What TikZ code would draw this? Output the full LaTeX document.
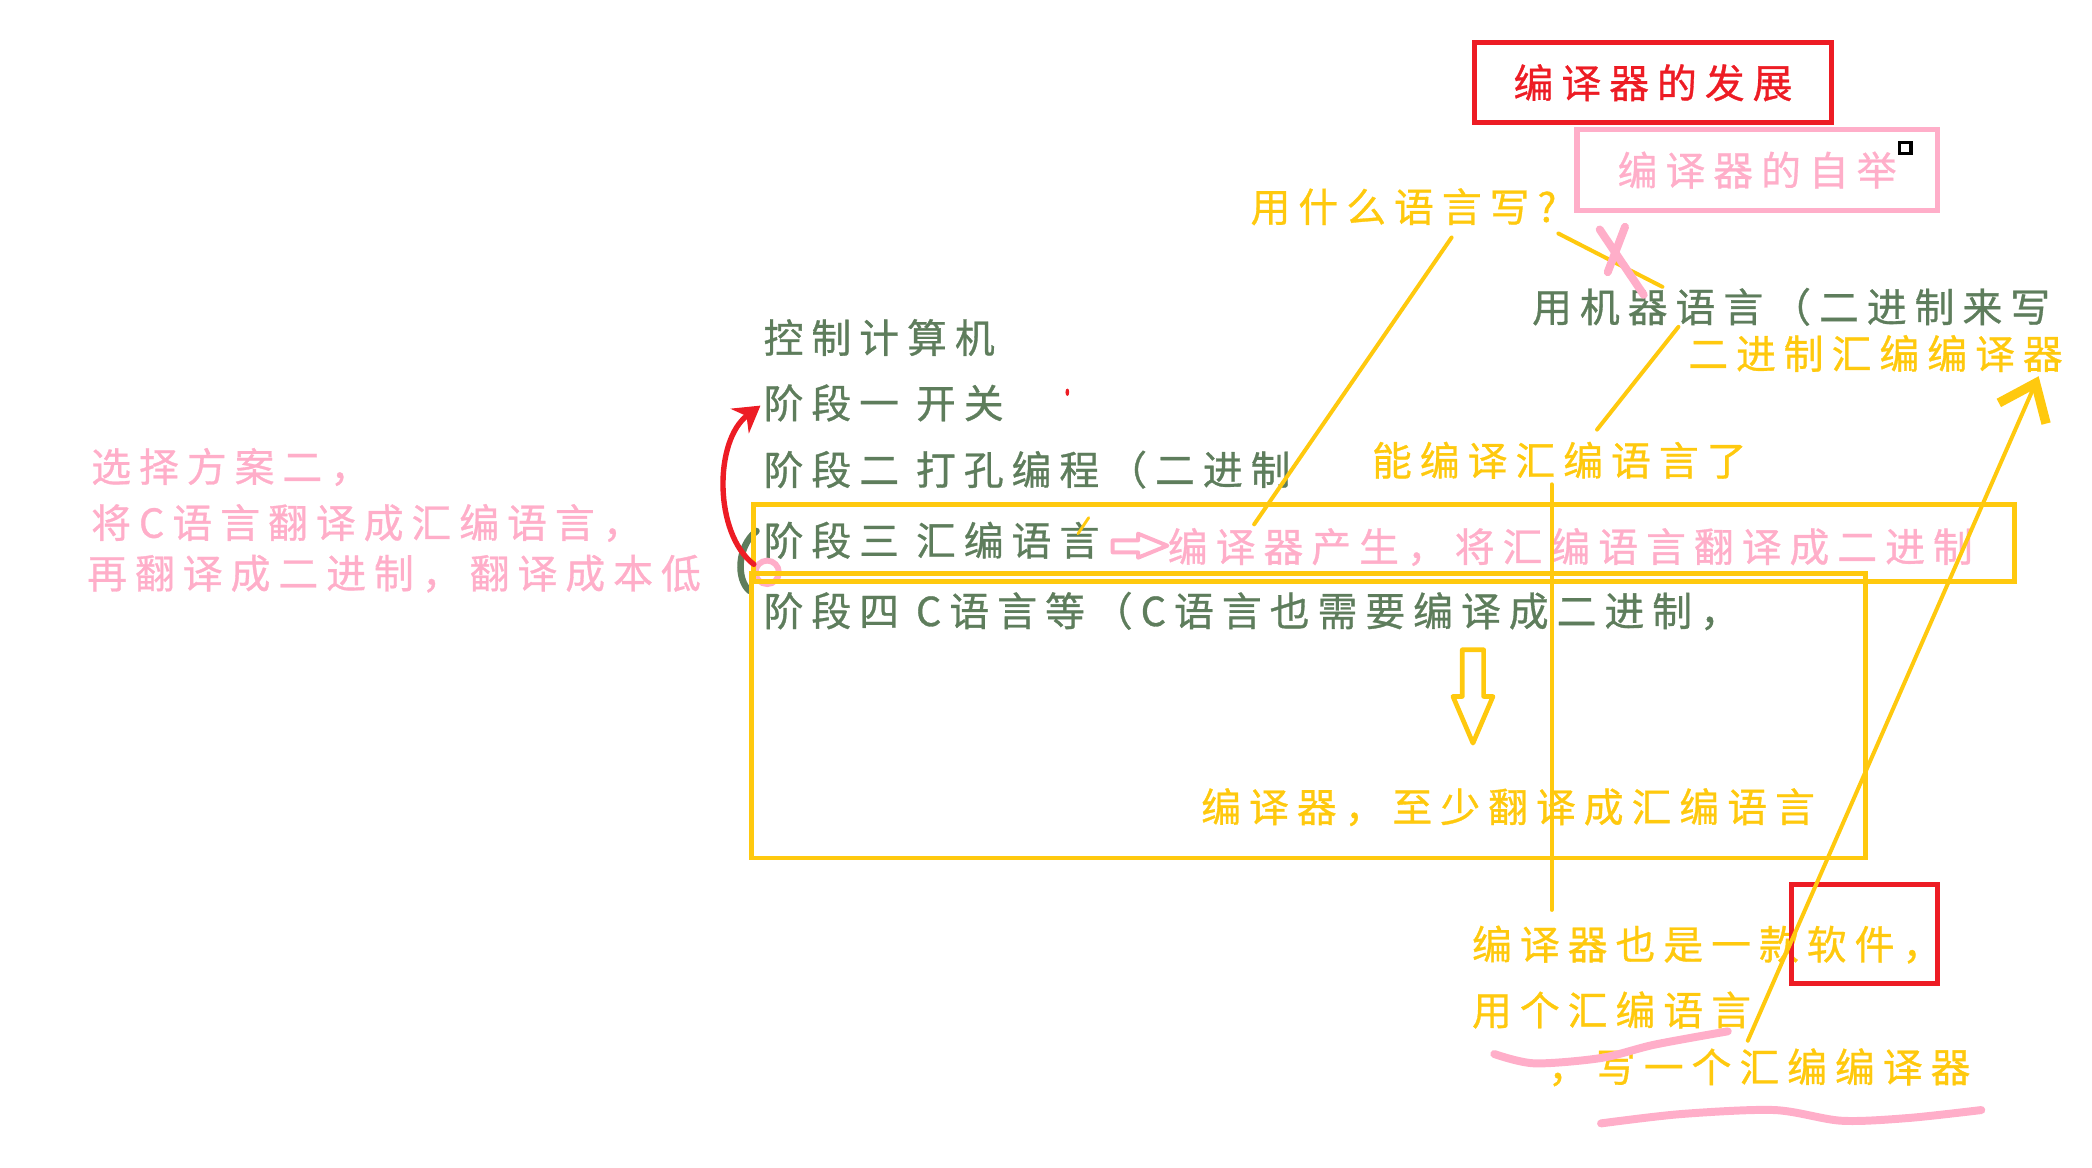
\documentclass[tikz,border=0pt]{standalone}
\usepackage{fontspec}
\usetikzlibrary{arrows.meta, calc}
\newfontfamily\hand[LetterSpace=20, FakeBold=0.8]{Noto Sans CJK SC}
\definecolor{Moss}   {HTML}{5E7D5C}
\definecolor{Gold}   {HTML}{FFC90E}
\definecolor{Rose}   {HTML}{FFAEC9}
\definecolor{Scarlet}{HTML}{ED1C24}
\tikzset{
  txt/.style args={#1}{
    anchor=west, inner sep=0pt, text=#1,
    font=\hand\fontsize{17pt}{19pt}\selectfont,
  },
  boxed/.style args={#1}{
    rectangle, draw=#1, text=#1, line width=2.2pt,
    font=\hand\fontsize{17pt}{19pt}\selectfont,
    inner sep=0pt,
  },
  frm/.style args={#1}{
    draw=#1, line width=2pt,
  },
  pen/.style args={#1}{
    draw=#1, line width=1.7pt, line cap=round,
  },
  % thick marker strokes
  marker/.style args={#1}{
    draw=#1, line width=3.4pt, line cap=round, line join=round,
  },
}
\begin{document}
\begin{tikzpicture}[x=0.02cm,y=-0.02cm]
  \useasboundingbox (0,0) rectangle (1568,875);

  \node[boxed=Scarlet, minimum width=5.36cm, minimum height=1.2cm] (title) at (1239,62) {\raisebox{-0.06cm}{编译器的发展}};
  \node[boxed=Rose, minimum width=5.4cm, minimum height=1.22cm] (boot) at (1317,127.5) {\raisebox{-0.12cm}{编译器的自举}};
  \node[draw=black, line width=1.4pt, fill=white, minimum size=0.17cm, inner sep=0pt] (pin) at (1428,111) {};

  \foreach \name/\y/\lbl in {ctrl/253/控制计算机, st1/302/阶段一 开关,
                             st2/352/阶段二 打孔编程（二进制, st3/405/阶段三 汇编语言,
                             st4/458/阶段四 C语言等（C语言也需要编译成二进制，}{
    \node[txt=Moss] (\name) at (572,\y) {\lbl};
  }

  \foreach \name/\x/\y/\lbl in {opt1/68/350/选择方案二，, opt2/68/392/将C语言翻译成汇编语言，,
                                opt3/65/430/再翻译成二进制，翻译成本低}{
    \node[txt=Rose] (\name) at (\x,\y) {\lbl};
  }

  \node[txt=Gold] (ask)    at (937,155)  {用什么语言写?};
  \node[txt=Moss] (mach)   at (1148,230) {用机器语言（二进制来写};
  \node[txt=Gold] (binasm) at (1265,265) {二进制汇编编译器};
  \node[txt=Gold] (canasm) at (1028,345) {能编译汇编语言了};
  \node[txt=Rose] (born)   at (875,410)  {编译器产生，将汇编语言翻译成二进制};
  \node[txt=Gold] (least)  at (900,605)  {编译器，至少翻译成汇编语言};
  \node[txt=Gold] (soft)   at (1103,708) {编译器也是一款软件，};
  \node[txt=Gold] (useasm) at (1103,757) {用个汇编语言};
  \node[txt=Gold] (wrt)    at (1160,800) {，写一个汇编编译器};

  % little marks by stage three
  \draw[Moss, line width=2.8pt, line cap=round] (567,398) .. controls (552,410) and (552,435) .. (562,443);
  \draw[Rose, line width=2.5pt] (575,429) circle [radius=5pt];
  \fill[Scarlet] (800,294) ellipse [x radius=0.8pt, y radius=1.6pt];
  \draw[pen=Gold, line width=1.2pt] (816,388) -- (808,400);

  \draw[frm=Gold] (565,378) rectangle (1510,436);
  \draw[frm=Gold] (563,430) rectangle (1398,643);
  \draw[frm=Scarlet] (1343,663) rectangle (1452,737);

  % hollow arrows
  \draw[pen=Rose, line join=round] (834,405) -- (853,405) -- (853,400) -- (875,409)
       -- (853,418) -- (853,414) -- (834,414) -- cycle;
  \draw[pen=Gold, line width=2pt, line join=round] (1096,487) -- (1112,487) -- (1112,522) -- (1119,522)
       -- (1104,557) -- (1089,522) -- (1096,522) -- cycle;

  \coordinate (askA) at (1088,178);
  \coordinate (askB) at (940,393);
  \coordinate (qA)   at (1168,175);
  \coordinate (qB)   at (1246,215);
  \coordinate (machA) at (1258,245);
  \coordinate (machB) at (1197,322);
  \coordinate (vA)   at (1163,363);
  \coordinate (vB)   at (1163,682);
  \coordinate (upA)  at (1310,780);
  \coordinate (upB)  at (1528,282);
  \draw[pen=Gold] (askA) -- (askB);
  \draw[pen=Gold] (qA) -- (qB);
  \draw[pen=Gold] (machA) -- (machB);
  \draw[pen=Gold] (vA) -- (vB);
  \draw[pen=Gold, -{Straight Barb[length=14pt,width=22pt,line width=4pt]}] (upA) -- (upB);

  % cross on the question line
  \draw[marker=Rose] (1199,172) -- (1232,221);
  \draw[marker=Rose] (1218,170) -- (1205,204);

  \coordinate (arcA) at (565,423);
  \coordinate (arcB) at (570,304);
  \draw[pen=Scarlet, line width=2.3pt, -{Stealth[length=11pt,width=13pt]}]
       (arcA) .. controls (535,400) and (535,330) .. (arcB);

  \draw[marker=Rose] plot[smooth] coordinates {(1120,790) (1150,797) (1200,793) (1240,783) (1295,773)};
  \draw[marker=Rose] plot[smooth] coordinates {(1200,842) (1260,835) (1330,832) (1380,840) (1430,838) (1485,832)};

\end{tikzpicture}
\end{document}
